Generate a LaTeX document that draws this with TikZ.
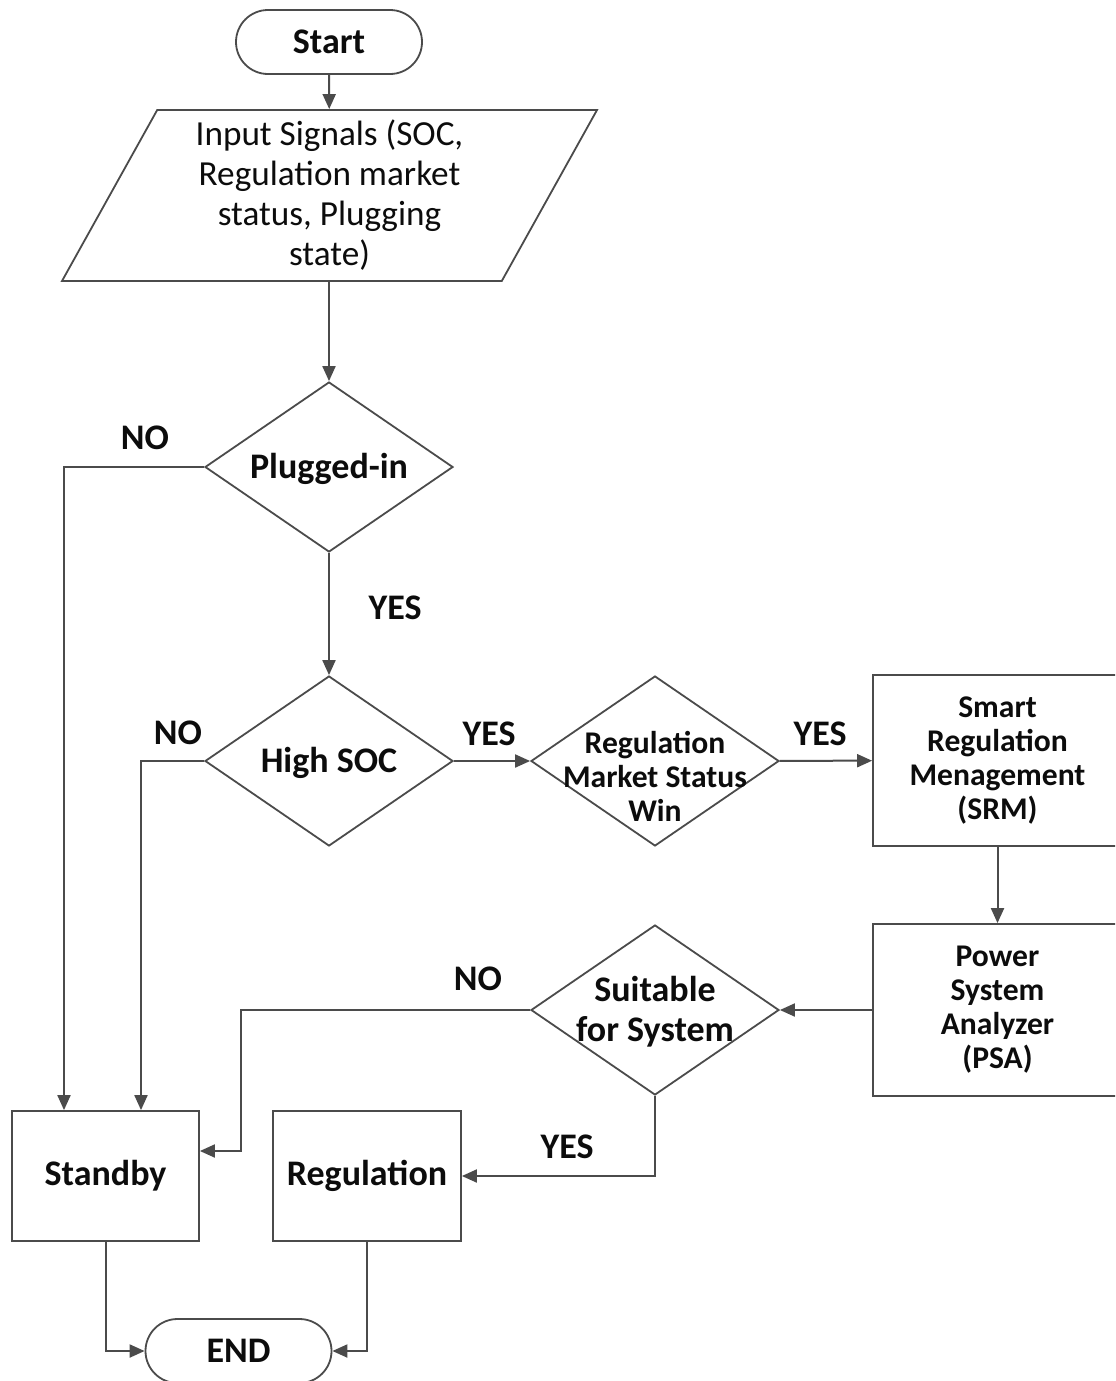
\documentclass[tikz,border=0pt]{standalone}
\usepackage{fontspec}
\setmainfont{Carlito}
\usepackage{tikz}
\usetikzlibrary{shapes.geometric, shapes.misc, arrows.meta, positioning}
\definecolor{flowline}{RGB}{75, 75, 75}
\definecolor{flowtext}{RGB}{12, 12, 12}
\newcommand{\flowbig}{\fontsize{18}{20}\selectfont\bfseries}
\newcommand{\flowsmall}{\fontsize{15.8}{17}\selectfont\bfseries}
\newcommand{\flowplain}{\fontsize{17.6}{20}\selectfont}

\begin{document}
\begin{tikzpicture}[
    x=0.5pt, y=-0.5pt,
    every node/.style={text=flowtext},
    terminal/.style={rounded rectangle, draw=flowline, line width=0.9pt,
        minimum width=93pt, minimum height=32pt, inner sep=0pt, font=\flowbig},
    inputbox/.style={trapezium, trapezium left angle=57.7, trapezium right angle=122.3,
        trapezium stretches body, draw=flowline, line width=0.9pt,
        minimum width=267.5pt, minimum height=85.5pt, inner sep=0pt,
        align=center, font=\flowplain},
    decision/.style 2 args={diamond, draw=flowline, line width=0.9pt,
        minimum width=124pt, minimum height=85pt, inner sep=0pt,
        label={[align=center, #1]center:#2}},
    process/.style={rectangle, draw=flowline, line width=0.9pt,
        inner sep=0pt, align=center},
    flow/.style={draw=flowline, line width=1pt, -{Triangle[length=7.5pt, width=6.5pt]}},
    answer/.style={font=\flowbig}
]
\clip (0,0) rectangle (1115,1381);

\node[terminal] (start) at (329,42) {Start};
\node[inputbox] (input) at (329.5,195.5) {Input Signals (SOC,\\Regulation market\\status, Plugging\\state)};
\node[decision={font=\flowbig, yshift=-1pt}{Plugged-in}] (plug) at (329,467) {};
\node[decision={font=\flowbig, yshift=-1pt}{High SOC}] (soc) at (329,761) {};
\node[decision={font=\flowsmall, yshift=-7.5pt}{Regulation\\Market Status\\Win}] (market) at (655,761) {};
\node[process, minimum width=124.5pt, minimum height=85.5pt, font=\flowsmall] (srm) at (997.5,760.5) {Smart\\Regulation\\Menagement\\(SRM)};
\node[process, minimum width=124.5pt, minimum height=86pt, font=\flowsmall] (psa) at (997.5,1010) {Power\\System\\Analyzer\\(PSA)};
\node[decision={font=\flowbig, yshift=-1pt}{Suitable\\for System}] (suit) at (655,1010) {};
\node[process, minimum width=93.5pt, minimum height=65pt, font=\flowbig] (standby) at (105.5,1176) {Standby};
\node[process, minimum width=94pt, minimum height=65pt, font=\flowbig] (reg) at (367,1176) {Regulation};
\node[terminal] (end) at (238.5,1351) {END};

\node[answer] (plugno) at (145,438) {NO};
\node[answer] (plugyes) at (395,608) {YES};
\node[answer] (socno) at (178,733) {NO};
\node[answer] (socyes) at (489,734) {YES};
\node[answer] (marketyes) at (820,734) {YES};
\node[answer] (suitno) at (478,979) {NO};
\node[answer] (suityes) at (567,1147) {YES};

\coordinate (nobend) at (241,1151);

\draw[flow] (start) -- (input);
\draw[flow] (input.south -| plug.north) -- (plug);
\draw[flow] (plug.west) -| ([xshift=-20.75pt]standby.north);
\draw[flow] (plug) -- (soc);
\draw[flow] (soc.west) -| ([xshift=17.75pt]standby.north);
\draw[flow] (soc) -- (market);
\draw[flow] (market) -- (srm);
\draw[flow] (srm) -- (psa);
\draw[flow] (psa) -- (suit);
\draw[flow] (suit.west) -| (nobend) -- (standby.east |- nobend);
\draw[flow] (suit.south) |- (reg.east);
\draw[flow] (standby.south) |- (end.west);
\draw[flow] (reg.south) |- (end.east);
\end{tikzpicture}
\end{document}
